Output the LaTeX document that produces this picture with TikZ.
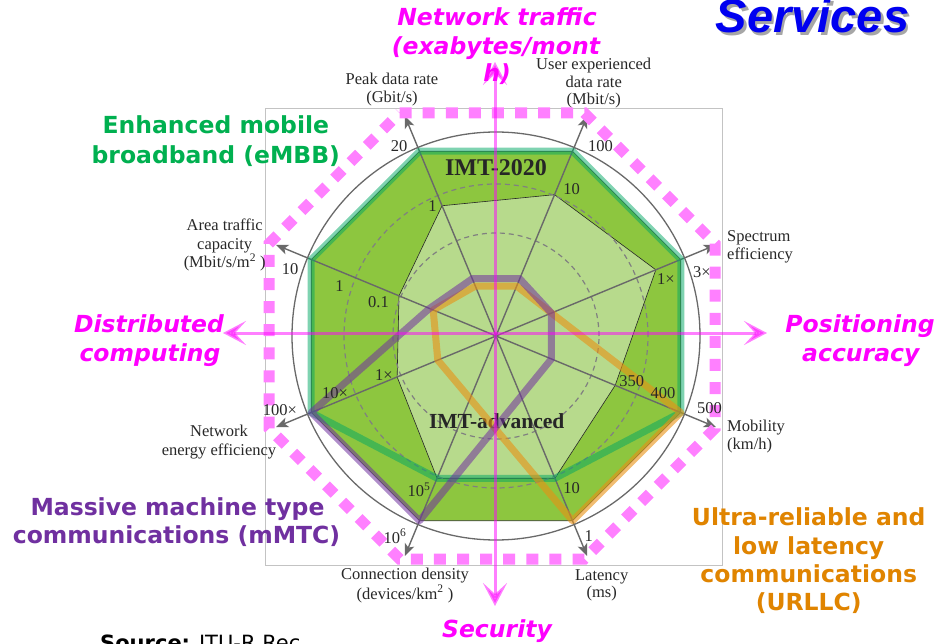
\documentclass[tikz,border=0pt]{standalone}
\usepackage{fontspec}
\setmainfont{Liberation Serif}
\newfontfamily\vfont{DejaVu Sans}
\newfontfamily\afont{Liberation Sans}
\usetikzlibrary{arrows.meta}
\definecolor{gdark}{RGB}{141,198,63}
\definecolor{glight}{RGB}{183,218,140}
\definecolor{embbcol}{RGB}{0,176,80}
\definecolor{embbband}{RGB}{0,168,100}
\definecolor{mmtccol}{RGB}{112,48,160}
\definecolor{urllccol}{RGB}{224,132,0}
\definecolor{urllcband}{RGB}{232,145,20}
\definecolor{pinkc}{RGB}{255,0,255}
\definecolor{pinkl}{RGB}{255,128,255}
\definecolor{svcblue}{RGB}{0,0,240}
\definecolor{axgray}{RGB}{105,105,105}
\definecolor{dashgray}{RGB}{128,128,128}
\definecolor{txtgray}{RGB}{40,40,40}
\definecolor{framegray}{RGB}{195,195,195}
\newcommand{\serifsz}{\fontsize{16.5}{18}\selectfont}
\newcommand{\catfont}{\vfont\bfseries\fontsize{23.5}{28}\selectfont}
\tikzset{
 axisline/.style={draw=axgray, line width=1.4pt, -{Stealth[length=12pt,width=10pt,inset=3pt]}},
 band/.style={line width=7pt, line join=round},
 pinkarrow/.style={draw=pinkc, line width=3pt, opacity=0.5, {Stealth[length=23pt,width=24pt,inset=11pt]}-{Stealth[length=23pt,width=24pt,inset=11pt]}},
 pinkdots/.style={draw=pinkl, line width=11pt, dash pattern=on 12pt off 11.09pt},
 lab/.style={font=\serifsz, text=txtgray, inner sep=0pt, anchor=base},
 cat/.style={font=\catfont, inner sep=0pt, anchor=base},
 catit/.style={font=\catfont\itshape, text=pinkc, inner sep=0pt, anchor=base},
 imt/.style={font=\bfseries, text=black!85, inner sep=0pt, anchor=base},
}
\begin{document}
\begin{tikzpicture}[x=1pt,y=-1pt]
\useasboundingbox (0,0) rectangle (937,644);
\fill[white] (0,0) rectangle (937,644);
% frame
\draw[framegray, line width=0.8pt] (265,108) rectangle (722,565);
% radar
\begin{scope}[shift={(496,336)}, yscale=-1]
 \coordinate (O) at (0,0);
 \filldraw[fill=gdark, draw=black!75, line width=0.6pt] (112.5:200) -- (67.5:200) -- (22.5:200) -- (-22.5:200) -- (-67.5:200) -- (-112.5:200) -- (-157.5:200) -- (157.5:200) -- cycle;
 \filldraw[fill=glight, draw=black!85, line width=0.6pt] (112.5:141) -- (67.5:153) -- (22.5:173) -- (-22.5:129) -- (-67.5:154) -- (-112.5:154) -- (-157.5:107) -- (157.5:105) -- cycle;
 \draw[axgray, line width=1.3pt] (O) circle[radius=204];
 \draw[dashgray, line width=1.2pt, dash pattern=on 5pt off 4pt] (O) circle[radius=152];
 \draw[dashgray, line width=1.2pt, dash pattern=on 5pt off 4pt] (O) circle[radius=103];
 \coordinate (ax1) at (112.5:238);
 \coordinate (ax2) at (67.5:238);
 \coordinate (ax3) at (22.5:238);
 \coordinate (ax4) at (-22.5:238);
 \coordinate (ax5) at (-67.5:238);
 \coordinate (ax6) at (-112.5:238);
 \coordinate (ax7) at (-157.5:238);
 \coordinate (ax8) at (157.5:238);
 \foreach \n in {1,...,8} \draw[axisline] (O) -- (ax\n);
\end{scope}
% IMT labels (under the bands)
\node[imt, font=\bfseries\fontsize{24}{28}\selectfont] (imt2020) at (496,176) {IMT-2020};
\node[imt, font=\bfseries\fontsize{21.5}{26}\selectfont] (imtadv) at (496.7,428) {IMT-advanced};
% service bands
\begin{scope}[shift={(496,336)}, yscale=-1]
 \draw[band, draw=embbband, opacity=0.5] (112.5:200) -- (67.5:200) -- (22.5:200) -- (-22.5:200) -- (-67.5:154) -- (-112.5:154) -- (-157.5:200) -- (157.5:200) -- cycle;
 \draw[band, draw=urllcband, opacity=0.6] (112.5:54) -- (67.5:54) -- (22.5:60) -- (-22.5:200) -- (-67.5:200) -- (-157.5:63) -- (157.5:68) -- cycle;
 \draw[band, draw=mmtccol, opacity=0.55] (112.5:62) -- (67.5:62) -- (22.5:60) -- (-22.5:60) -- (-112.5:200) -- (-157.5:200) -- (157.5:72) -- cycle;
\end{scope}
% pink dotted octagon
\draw[pinkdots] (399.6,113) -- (584.4,113) -- (715,243.6) -- (715,428.4) -- (584.4,559) -- (399.6,559) -- (269,428.4) -- (269,243.6) -- cycle;
% pink axes
\coordinate (pt) at (495,62);
\coordinate (pb) at (495,606);
\coordinate (pl) at (223,333);
\coordinate (pr) at (767,333);
\draw[pinkarrow] (pt) -- (pb);
\draw[pinkarrow] (pl) -- (pr);
% axis names
\node[lab] (pk1) at (392,85) {Peak data rate};
\node[lab] (pk2) at (392,103) {(Gbit/s)};
\node[lab] (ue1) at (593.7,70) {User experienced};
\node[lab] (ue2) at (593.7,88) {data rate};
\node[lab] (ue3) at (593.7,105) {(Mbit/s)};
\node[lab, anchor=base west] (se1) at (727,241.5) {Spectrum};
\node[lab, anchor=base west] (se2) at (727,259.5) {efficiency};
\node[lab, anchor=base west] (mo1) at (727,431.5) {Mobility};
\node[lab, anchor=base west] (mo2) at (727,449.5) {(km/h)};
\node[lab] (la1) at (601.7,580) {Latency};
\node[lab] (la2) at (601.7,597) {(ms)};
\node[lab] (cd1) at (405,579) {Connection density};
\node[lab] (cd2) at (405,599) {(devices/km\textsuperscript{2} )};
\node[lab] (ne1) at (219,436.7) {Network};
\node[lab] (ne2) at (219,455) {energy efficiency};
\node[lab] (at1) at (224.7,231) {Area traffic};
\node[lab] (at2) at (224.7,249.3) {capacity};
\node[lab] (at3) at (224.7,268) {(Mbit/s/m\textsuperscript{2} )};
% scale values
\node[lab] (v1) at (399,152) {20};
\node[lab] (v2) at (600.5,152) {100};
\node[lab] (v3) at (432.5,211.7) {1};
\node[lab] (v4) at (571.7,195) {10};
\node[lab] (v5) at (665.8,285) {1×};
\node[lab] (v6) at (702,278) {3×};
\node[lab] (v7) at (631.7,386) {350};
\node[lab] (v8) at (663,398) {400};
\node[lab] (v9) at (709.5,413) {500};
\node[lab] (v10) at (571.7,493) {10};
\node[lab] (v11) at (588.7,541.7) {1};
\node[lab] (v12) at (419,496.7) {10\textsuperscript{5}};
\node[lab] (v13) at (395,543) {10\textsuperscript{6}};
\node[lab] (v14) at (384,380) {1×};
\node[lab] (v15) at (335,398) {10×};
\node[lab] (v16) at (280,415) {100×};
\node[lab] (v17) at (378.5,308) {0.1};
\node[lab] (v18) at (339.6,291.7) {1};
\node[lab] (v19) at (290,275) {10};
% category texts
\node[cat, text=embbcol] (em1) at (215.8,133.3) {Enhanced mobile};
\node[cat, text=embbcol] (em2) at (215.8,163.3) {broadband (eMBB)};
\node[cat, text=mmtccol] (mm1) at (177.5,515.7) {Massive machine type};
\node[cat, text=mmtccol] (mm2) at (176.5,543.3) {communications (mMTC)};
\node[cat, text=urllccol] (ur1) at (808.7,525) {Ultra-reliable and};
\node[cat, text=urllccol] (ur2) at (808.7,554) {low latency};
\node[cat, text=urllccol] (ur3) at (808.7,582) {communications};
\node[cat, text=urllccol] (ur4) at (808.7,610.5) {(URLLC)};
\node[catit] (nt1) at (497,26) {Network traffic};
\node[catit] (nt2) at (496,54.5) {(exabytes/mont};
\node[catit] (nt3) at (497,82) {h)};
\node[catit] (dc1) at (149,333) {Distributed};
\node[catit] (dc2) at (150,361) {computing};
\node[catit] (pa1) at (860,333) {Positioning};
\node[catit] (pa2) at (860.8,361) {accuracy};
\node[catit] (sec) at (497,637) {Security};
% title
\node[inner sep=0pt, anchor=base, text=black, opacity=0.35, font=\afont\bfseries\itshape\fontsize{47}{50}\selectfont] (svcsh) at (815,35.5) {Services};
\node[inner sep=0pt, anchor=base, text=svcblue, font=\afont\bfseries\itshape\fontsize{47}{50}\selectfont] (svc) at (812.5,33) {Services};
% source
\node[inner sep=0pt, anchor=base west, font=\vfont\fontsize{21}{24}\selectfont] (src) at (100,650) {\textbf{Source:} ITU-R Rec};
\end{tikzpicture}
\end{document}
